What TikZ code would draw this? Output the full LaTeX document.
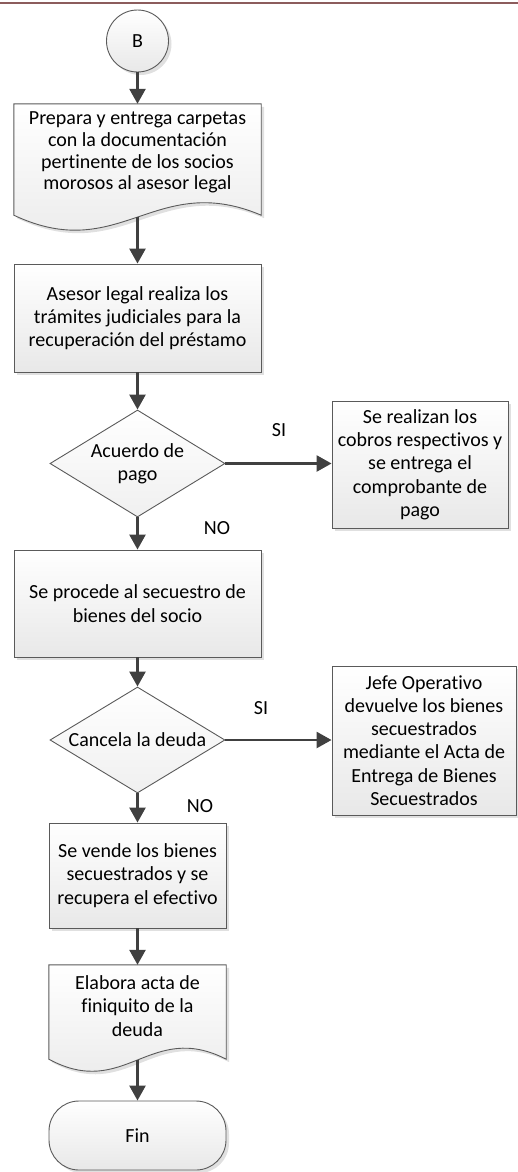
\documentclass[tikz,border=0pt]{standalone}
\usepackage{fontspec}
\setmainfont{Carlito}[Ligatures=NoCommon]
\usetikzlibrary{positioning,calc}
\usetikzlibrary{arrows.meta,shapes.geometric,shadows,backgrounds}
\definecolor{LineGray}{RGB}{90,90,90}
\definecolor{ArrowGray}{RGB}{64,64,64}
\definecolor{RuleBrown}{RGB}{140,92,92}
\tikzset{shad/.style={drop shadow={shadow xshift=3pt,shadow yshift=-3pt,fill=black!35,opacity=0.35}}, txt/.style={font=\fontsize{20}{23.3}\selectfont,align=center}, proc/.style={rectangle,draw=LineGray,line width=0.9pt,top color=white,bottom color=black!9,shad,inner sep=0pt,txt}, decision/.style={diamond,draw=LineGray,line width=0.9pt,top color=white,bottom color=black!6,inner sep=0pt,minimum width=175pt,minimum height=107pt}, conn/.style={circle,draw=LineGray,line width=0.9pt,top color=white,bottom color=black!9,shad,inner sep=0pt,minimum size=62pt,txt}, term/.style={rectangle,rounded corners=30pt,draw=LineGray,line width=0.9pt,top color=white,bottom color=black!9,shad,inner sep=0pt,minimum width=177pt,minimum height=69pt,txt}, doctext/.style={rectangle,inner sep=0pt,txt}, docline/.style={draw=LineGray,line width=0.9pt,top color=white,bottom color=black!9,shad}, flow/.style={draw=ArrowGray,line width=2.6pt,-{Triangle[length=15pt,width=16pt]}}, lbl/.style={inner sep=0pt,txt}}

\begin{document}
\begin{tikzpicture}[x=1pt,y=-1pt]
\useasboundingbox (0,0) rectangle (518,1172);
\draw[RuleBrown,line width=2pt] (0,3) -- (518,3);
\coordinate (pB) at (137.5,41);
\coordinate (pPrep) at (137.5,152.5);
\coordinate (pAses) at (137.5,318);
\coordinate (pAcu) at (137.5,463.5);
\coordinate (pCob) at (420,464.5);
\coordinate (pSec) at (137.5,603.5);
\coordinate (pCan) at (137.5,740);
\coordinate (pDev) at (424,740.5);
\coordinate (pVen) at (137.5,875.5);
\coordinate (pFiniq) at (137.5,1006);
\coordinate (pFin) at (137.5,1135.5);
\node[conn] (B) at (pB) {B};
\node[doctext,minimum width=247pt,minimum height=97pt,font=\fontsize{20}{21.7}\selectfont] (prep) at (pPrep) {Prepara y entrega carpetas\\con la documentación\\pertinente de los socios\\morosos al asesor legal};
\node[proc,minimum width=247pt,minimum height=108pt] (asesor) at (pAses) {Asesor legal realiza los\\trámites judiciales para la\\recuperación del préstamo};
\node[decision] (acuerdo) at (pAcu) {};
\node[txt] (acuerdoT) at (pAcu) {Acuerdo de\\pago};
\node[proc,minimum width=176pt,minimum height=127pt] (cobros) at (pCob) {Se realizan los\\cobros respectivos y\\se entrega el\\comprobante de\\pago};
\node[proc,minimum width=247pt,minimum height=107pt] (secuestro) at (pSec) {Se procede al secuestro de\\bienes del socio};
\node[decision,minimum height=106pt] (cancela) at (pCan) {};
\node[txt] (cancelaT) at (pCan) {Cancela la deuda};
\node[proc,minimum width=184pt,minimum height=149pt] (devuelve) at (pDev) {Jefe Operativo\\devuelve los bienes\\secuestrados\\mediante el Acta de\\Entrega de Bienes\\Secuestrados};
\node[proc,minimum width=177pt,minimum height=105pt] (vende) at (pVen) {Se vende los bienes\\secuestrados y se\\recupera el efectivo};
\node[doctext,minimum width=177pt,minimum height=82pt] (finiq) at (pFiniq) {Elabora acta de\\finiquito de la\\deuda};
\node[term] (fin) at (pFin) {Fin};
\begin{scope}[on background layer]
\draw[docline] (prep.north west) -- ([yshift=-14pt]prep.south west) .. controls ([xshift=-17.5pt,yshift=-64pt]prep.south) and ([xshift=17.5pt,yshift=31pt]prep.south) .. ([yshift=-14pt]prep.south east) coordinate[pos=0.5] (prepW) -- (prep.north east) -- cycle;
\draw[docline] (finiq.north west) -- ([yshift=-12pt]finiq.south west) .. controls ([xshift=-12.5pt,yshift=-53pt]finiq.south) and ([xshift=12.5pt,yshift=27pt]finiq.south) .. ([yshift=-12pt]finiq.south east) coordinate[pos=0.5] (finiqW) -- (finiq.north east) -- cycle;
\end{scope}
\draw[flow] (B.south) -- (prep.north);
\draw[flow] (asesor.north |- prepW) -- (asesor.north);
\draw[flow] (asesor.south) -- (acuerdo.north);
\draw[flow] (acuerdo.east) -- (acuerdo.east -| cobros.west);
\draw[flow] (acuerdo.south) -- (secuestro.north);
\draw[flow] (secuestro.south) -- (cancela.north);
\draw[flow] (cancela.east) -- (cancela.east -| devuelve.west);
\draw[flow] (cancela.south) -- (vende.north);
\draw[flow] (vende.south) -- (finiq.north);
\draw[flow] (fin.north |- finiqW) -- (fin.north);
\node[lbl] (si1) at (279,430) {SI};
\node[lbl] (no1) at (217,528) {NO};
\node[lbl] (si2) at (261,708) {SI};
\node[lbl] (no2) at (200,806) {NO};
\end{tikzpicture}
\end{document}
